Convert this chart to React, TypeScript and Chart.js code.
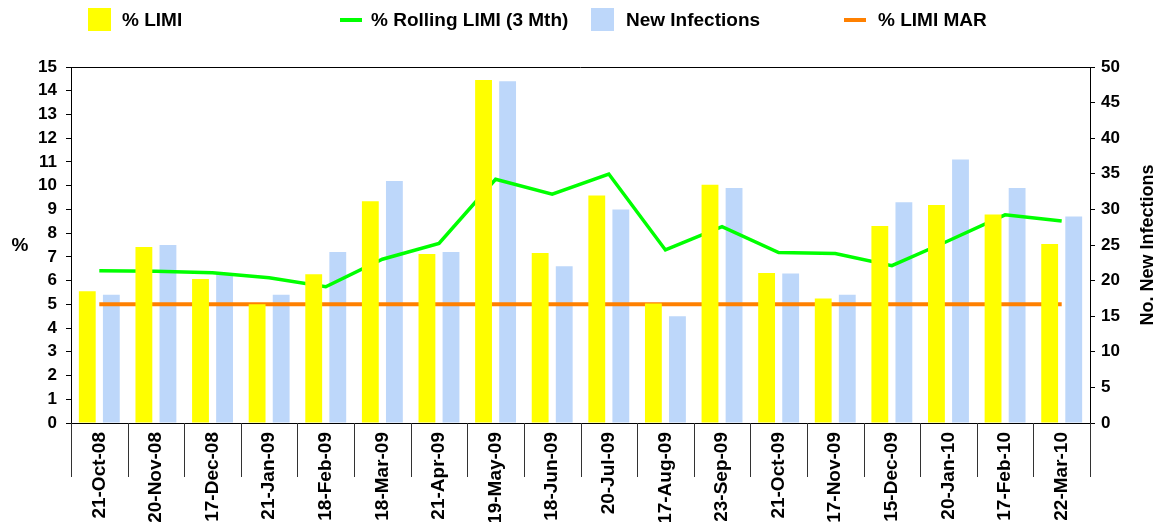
import React, { useEffect, useRef } from "react";
import { Chart, registerables } from "chart.js";

Chart.register(...registerables);

const categories = [
  "21-Oct-08", "20-Nov-08", "17-Dec-08", "21-Jan-09", "18-Feb-09", "18-Mar-09",
  "21-Apr-09", "19-May-09", "18-Jun-09", "20-Jul-09", "17-Aug-09", "23-Sep-09",
  "21-Oct-09", "17-Nov-09", "15-Dec-09", "20-Jan-10", "17-Feb-10", "22-Mar-10",
];
const limiPct = [5.55, 7.42, 6.07, 5.0, 6.27, 9.34, 7.12, 14.45, 7.16, 9.59, 5.04, 10.04, 6.32, 5.25, 8.3, 9.19, 8.79, 7.54];
const newInfections = [18, 25, 21, 18, 24, 34, 24, 48, 22, 30, 15, 33, 21, 18, 31, 37, 33, 29];
const rollingLimi = [6.42, 6.39, 6.33, 6.12, 5.74, 6.9, 7.57, 10.27, 9.64, 10.49, 7.29, 8.27, 7.18, 7.14, 6.63, 7.68, 8.77, 8.51];
const limiMar = [5, 5, 5, 5, 5, 5, 5, 5, 5, 5, 5, 5, 5, 5, 5, 5, 5, 5];

const FONT = "'Liberation Sans', Arial, sans-serif";
const YELLOW = "#FFFF00";
const BLUE = "#BDD7FA";
const GREEN = "#00FF00";
const ORANGE = "#FF8000";

const decorPlugin = {
  id: "decor",
  afterDraw(chart: any) {
    const ctx = chart.ctx;
    const { left, right, top, bottom } = chart.chartArea;
    ctx.save();
    // top border of plot
    ctx.strokeStyle = "#000";
    ctx.lineWidth = 1;
    ctx.beginPath();
    ctx.moveTo(left, top + 0.5);
    ctx.lineTo(right, top + 0.5);
    ctx.stroke();
    // category separators below axis
    const n = categories.length;
    ctx.strokeStyle = "#333";
    for (let i = 0; i <= n; i++) {
      const bx = Math.round(left + ((right - left) * i) / n) + 0.5;
      ctx.beginPath();
      ctx.moveTo(bx, bottom);
      ctx.lineTo(bx, bottom + 54);
      ctx.stroke();
    }
    // legend
    ctx.font = `bold 19px ${FONT}`;
    ctx.fillStyle = "#000";
    ctx.textBaseline = "middle";
    ctx.textAlign = "left";
    const items = [
      { kind: "box", color: YELLOW, x: 88, text: "% LIMI", tx: 122 },
      { kind: "line", color: GREEN, x: 340, text: "% Rolling LIMI (3 Mth)", tx: 371 },
      { kind: "box", color: BLUE, x: 591, text: "New Infections", tx: 626 },
      { kind: "line", color: ORANGE, x: 844, text: "% LIMI MAR", tx: 878 },
    ];
    for (const it of items) {
      ctx.fillStyle = it.color;
      if (it.kind === "box") ctx.fillRect(it.x, 8, 23, 23);
      else ctx.fillRect(it.x, 18, 22, 4);
      ctx.fillStyle = "#000";
      ctx.fillText(it.text, it.tx, 21);
    }
    // left axis title
    ctx.font = `bold 19px ${FONT}`;
    ctx.textAlign = "center";
    ctx.fillText("%", 20, 246);
    // right axis title
    ctx.translate(1148, (top + bottom) / 2);
    ctx.rotate(-Math.PI / 2);
    ctx.font = `bold 18px ${FONT}`;
    ctx.fillText("No. New Infections", 0, 0);
    ctx.restore();
  },
};

export default function App() {
  const ref = useRef<HTMLCanvasElement>(null);
  useEffect(() => {
    if (!ref.current) return;
    const chart = new Chart(ref.current, {
      type: "bar",
      data: {
        labels: categories,
        datasets: [
          {
            type: "bar",
            label: "% LIMI",
            data: limiPct,
            backgroundColor: YELLOW,
            yAxisID: "y",
            barPercentage: 0.7,
            categoryPercentage: 0.85,
            order: 0,
          },
          {
            type: "line",
            label: "% Rolling LIMI (3 Mth)",
            data: rollingLimi,
            borderColor: GREEN,
            borderWidth: 3.5,
            pointRadius: 0,
            tension: 0,
            yAxisID: "y",
            order: 1,
          },
          {
            type: "line",
            label: "% LIMI MAR",
            data: limiMar,
            borderColor: ORANGE,
            borderWidth: 4,
            pointRadius: 0,
            tension: 0,
            yAxisID: "y",
            order: 1,
          },
          {
            type: "bar",
            label: "New Infections",
            data: newInfections,
            backgroundColor: BLUE,
            yAxisID: "y1",
            barPercentage: 0.7,
            categoryPercentage: 0.85,
            order: 2,
          },
        ],
      },
      options: {
        responsive: false,
        animation: false,
        layout: { padding: { top: 67, left: 0, right: 0, bottom: 0 } },
        plugins: { legend: { display: false }, tooltip: { enabled: false } },
        scales: {
          x: {
            grid: { display: true, drawOnChartArea: false, drawTicks: false },
            border: { display: true, color: "#000", width: 1 },
            ticks: {
              color: "#000",
              font: { family: FONT, size: 19, weight: "bold" },
              minRotation: 90,
              maxRotation: 90,
              autoSkip: false,
              padding: 9,
            },
            afterFit: (s: any) => { s.height = 522 - 423; },
          },
          y: {
            position: "left",
            min: 0,
            max: 15,
            grid: { drawOnChartArea: false, drawTicks: true, tickLength: 5, color: "#000" },
            border: { display: true, color: "#000", width: 1 },
            ticks: {
              stepSize: 1,
              color: "#000",
              font: { family: FONT, size: 17, weight: "bold" },
              padding: 9,
            },
            afterFit: (s: any) => { s.width = 71; },
          },
          y1: {
            position: "right",
            min: 0,
            max: 50,
            grid: { drawOnChartArea: false, drawTicks: true, tickLength: 5, color: "#000" },
            border: { display: true, color: "#000", width: 1 },
            ticks: {
              stepSize: 5,
              color: "#000",
              font: { family: FONT, size: 17, weight: "bold" },
              padding: 6,
            },
            afterFit: (s: any) => { s.width = 1156 - 1090; },
          },
        },
      },
      plugins: [decorPlugin],
    } as any);
    return () => chart.destroy();
  }, []);
  return (
    <div style={{ position: "fixed", left: 0, top: 0, width: 1156, height: 522, background: "#fff" }}>
      <canvas ref={ref} width={1156} height={522} style={{ display: "block" }} />
    </div>
  );
}
